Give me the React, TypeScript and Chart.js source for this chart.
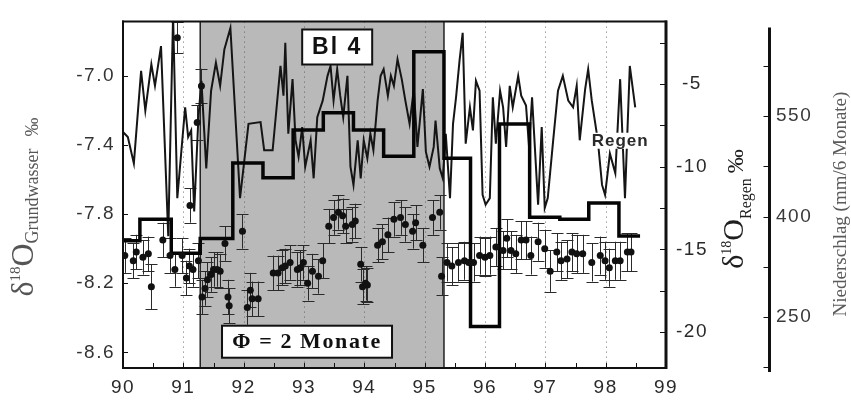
import React, { useEffect, useRef } from 'react';
import { Chart, registerables } from 'chart.js';

Chart.register(...registerables);

// ---------- axis ticks ----------
const xTickValues = [90, 91, 92, 93, 94, 95, 96, 97, 98, 99];
const gwTickValues = [-8.6, -8.2, -7.8, -7.4, -7.0];
const regenTickValues = [-20, -15, -10, -5];
const nsTickValues = [250, 400, 550];
const xFrameTicks = [90.5, 91, 91.5, 92, 92.5, 93, 93.5, 94, 94.5, 95, 95.5, 96, 96.5, 97, 97.5, 98, 98.5];
const regenFrameTicks = [-20, -17.5, -15, -12.5, -10, -7.5, -5, -2.5];
const nsAxisTicks = [175, 250, 325, 400, 475, 550, 625];

// ---------- shaded period ----------
const shadeFrom = 91.28;
const shadeTo = 95.32;

// ---------- δ18O Regen (monthly, ‰) ----------
const regenT = [
  90.0, 90.08, 90.18, 90.3, 90.37, 90.47, 90.53, 90.63, 90.75, 90.83, 90.9,
  91.03, 91.08, 91.13, 91.18, 91.25, 91.3, 91.38, 91.46, 91.54, 91.61, 91.68, 91.78, 91.94,
  92.08, 92.28, 92.34, 92.48, 92.61, 92.66, 92.69, 92.74, 92.81, 92.86, 92.91, 92.97,
  93.02, 93.11, 93.16, 93.22, 93.31, 93.39, 93.44, 93.49, 93.55, 93.6, 93.65, 93.72, 93.77, 93.82, 93.89, 93.94, 93.99,
  94.05, 94.1, 94.15, 94.22, 94.27, 94.32, 94.39, 94.44, 94.49, 94.55, 94.62, 94.68, 94.75, 94.82, 94.88, 94.97,
  95.02, 95.08, 95.15, 95.18, 95.25, 95.3, 95.35, 95.42, 95.47, 95.52, 95.58, 95.63, 95.68, 95.75, 95.8, 95.85, 95.91, 95.96,
  96.01, 96.08, 96.13, 96.18, 96.25, 96.3, 96.35, 96.41, 96.46, 96.55, 96.6, 96.68, 96.73, 96.78, 96.88, 96.94, 96.99,
  97.04, 97.13, 97.21, 97.29, 97.38, 97.46, 97.52, 97.57, 97.66, 97.71, 97.77, 97.87, 97.94, 97.99,
  98.07, 98.16, 98.24, 98.32, 98.4, 98.49,
];
const regenV = [
  -7.9, -8.2, -9.8, -4.2, -6.6, -3.8, -5.1, -2.7, -14.2, -0.85, -11.9,
  -6.4, -8.2, -7.8, -12.7, -7.0, -4.8, -10.1, -5.4, -3.7, -5.1, -2.9, -1.6, -11.9,
  -7.4, -7.3, -9.0, -9.0, -3.9, -5.7, -2.5, -8.0, -4.7, -8.4, -9.4, -7.6,
  -10.0, -8.4, -10.7, -7.0, -6.0, -4.5, -3.9, -6.0, -4.1, -5.7, -7.0, -4.5, -10.0, -11.1, -8.4, -10.7, -8.4,
  -9.5, -8.0, -9.0, -6.0, -4.5, -4.1, -5.7, -4.5, -5.1, -3.5, -4.7, -6.0, -7.4, -5.3, -8.8, -5.3,
  -9.1, -10.0, -8.8, -7.2, -10.1, -10.7, -8.0, -11.9, -7.4, -5.8, -3.5, -1.9, -8.6, -6.4, -7.8, -4.8, -5.4, -11.7,
  -12.3, -11.9, -5.8, -8.6, -5.4, -6.4, -8.8, -5.1, -6.4, -4.5, -5.7, -6.3, -8.8, -5.8, -12.3, -7.6, -12.5,
  -11.9, -8.4, -5.4, -4.5, -6.0, -6.4, -5.1, -8.4, -5.3, -4.1, -6.0, -8.4, -11.1, -11.7,
  -9.2, -10.4, -4.7, -11.9, -3.9, -6.4,
];

// ---------- Niederschlag (mm / 6 Monate), step starts ----------
const nsT = [90.0, 90.28, 90.8, 91.28, 91.82, 92.32, 92.82, 93.32, 93.82, 94.32, 94.82, 95.32, 95.76, 96.24, 96.74, 97.24, 97.72, 98.22, 98.57];
const nsV = [364, 396, 345, 367, 480, 458, 529, 555, 529, 490, 646, 487, 236, 538, 399, 396, 420, 371, 371];

// ---------- δ18O Grundwasser (‰) with error ----------
const gwT = [
  90.03, 90.17, 90.22, 90.33, 90.42, 90.47, 90.66, 90.78, 90.86, 90.9, 90.98,
  91.05, 91.1, 91.11, 91.16, 91.23, 91.25, 91.3, 91.31, 91.36, 91.4, 91.46, 91.5, 91.56, 91.61, 91.69, 91.74, 91.76, 91.98,
  92.06, 92.11, 92.14, 92.24, 92.49, 92.57, 92.64, 92.69, 92.77, 92.89, 92.94, 92.99,
  93.06, 93.14, 93.24, 93.31, 93.41, 93.49, 93.57, 93.64, 93.69, 93.8, 93.85, 93.94, 93.97,
  94.02, 94.05, 94.22, 94.3, 94.39, 94.49, 94.6, 94.68, 94.8, 94.85, 94.97,
  95.13, 95.25, 95.28, 95.37, 95.45, 95.56, 95.66, 95.73, 95.81, 95.91,
  96.0, 96.08, 96.18, 96.3, 96.36, 96.43, 96.51, 96.6, 96.68, 96.76, 96.88, 96.99,
  97.08, 97.19, 97.26, 97.36, 97.44, 97.52, 97.62, 97.77, 97.91, 97.99,
  98.06, 98.16, 98.24, 98.36, 98.42,
];
const gwV = [
  -8.04, -8.07, -8.02, -8.05, -8.03, -8.22, -7.95, -8.04, -8.12, -6.78, -8.04,
  -8.17, -8.1, -7.75, -8.12, -7.27, -8.07, -7.06, -8.28, -8.23, -8.18, -8.15, -8.12, -8.12, -8.13, -7.97, -8.28, -8.33, -7.9,
  -8.34, -8.24, -8.29, -8.29, -8.14, -8.14, -8.11, -8.1, -8.08, -8.12, -8.11, -8.08,
  -8.2, -8.13, -8.16, -8.07, -7.87, -7.82, -7.79, -7.81, -7.87, -7.86, -7.84, -8.09, -8.22,
  -8.2, -8.21, -7.98, -7.96, -7.92, -7.83, -7.82, -7.86, -7.9, -7.85, -7.98,
  -7.82, -7.79, -8.16, -8.08, -8.1, -8.08, -8.07, -8.08, -8.08, -8.04,
  -8.05, -8.04, -7.99, -8.01, -7.94, -8.01, -8.03, -7.95, -7.95, -8.04, -7.96, -8.0,
  -8.13, -8.02, -8.07, -8.06, -8.02, -8.03, -8.03, -8.08, -8.04, -8.07,
  -8.11, -8.07, -8.07, -8.02, -8.02,
];
const gwErr = [
  0.1, 0.1, 0.1, 0.1, 0.1, 0.13, 0.1, 0.1, 0.1, 0.09, 0.1,
  0.1, 0.1, 0.1, 0.1, 0.1, 0.1, 0.1, 0.1, 0.1, 0.1, 0.1, 0.1, 0.1, 0.1, 0.1, 0.1, 0.1, 0.1,
  0.1, 0.1, 0.1, 0.1, 0.1, 0.1, 0.1, 0.1, 0.1, 0.1, 0.1, 0.1,
  0.1, 0.1, 0.1, 0.1, 0.1, 0.1, 0.1, 0.1, 0.1, 0.1, 0.1, 0.1, 0.1,
  0.1, 0.1, 0.1, 0.1, 0.1, 0.1, 0.1, 0.1, 0.1, 0.1, 0.1,
  0.1, 0.1, 0.11, 0.11, 0.11, 0.11, 0.11, 0.11, 0.11, 0.11,
  0.11, 0.11, 0.11, 0.11, 0.11, 0.11, 0.11, 0.11, 0.11, 0.11, 0.11, 0.11,
  0.12, 0.11, 0.11, 0.11, 0.11, 0.11, 0.11, 0.11, 0.11, 0.11,
  0.11, 0.11, 0.11, 0.11, 0.11,
];

const SANS = '"Liberation Sans", Arial, Helvetica, sans-serif';
const SERIF = '"Liberation Serif", "Times New Roman", serif';

type Piece = { t: string; size: number; dy: number; gap?: number; bold?: boolean };

function drawRotatedRich(ctx: CanvasRenderingContext2D, pieces: Piece[], baseX: number, centerY: number, color: string) {
  ctx.save();
  (ctx as any).letterSpacing = '0px';
  ctx.fillStyle = color;
  ctx.textBaseline = 'alphabetic';
  ctx.textAlign = 'left';
  let total = 0;
  const widths: number[] = [];
  for (const p of pieces) {
    ctx.font = `${p.bold ? 'bold ' : ''}${p.size}px ${SERIF}`;
    const w = ctx.measureText(p.t).width;
    widths.push(w);
    total += w + (p.gap || 0);
  }
  ctx.translate(baseX, centerY);
  ctx.rotate(-Math.PI / 2);
  let x = -total / 2;
  pieces.forEach((p, i) => {
    x += p.gap || 0;
    ctx.font = `${p.bold ? 'bold ' : ''}${p.size}px ${SERIF}`;
    ctx.fillText(p.t, x, p.dy);
    x += widths[i];
  });
  ctx.restore();
}

function boxText(ctx: CanvasRenderingContext2D, cx: number, cy: number, w: number, h: number, text: string, font: string, spacing: string, border: number) {
  ctx.save();
  ctx.fillStyle = '#ffffff';
  ctx.fillRect(cx - w / 2, cy - h / 2, w, h);
  if (border > 0) {
    ctx.strokeStyle = '#111';
    ctx.lineWidth = border;
    ctx.strokeRect(cx - w / 2, cy - h / 2, w, h);
  }
  (ctx as any).letterSpacing = spacing;
  ctx.fillStyle = '#111';
  ctx.font = font;
  ctx.textAlign = 'center';
  ctx.textBaseline = 'middle';
  ctx.fillText(text, cx, cy + 1);
  ctx.restore();
}

const decorPlugin = {
  id: 'decor',
  afterInit(chart: any) {
    chart.ctx.letterSpacing = '1.5px';
  },
  beforeDatasetsDraw(chart: any) {
    const { ctx, chartArea: a, scales } = chart;
    const x = scales.x;
    const y = scales.y;
    ctx.save();
    (ctx as any).letterSpacing = '0px';
    const x0 = x.getPixelForValue(shadeFrom);
    const x1 = x.getPixelForValue(shadeTo);
    ctx.fillStyle = '#b9b9b9';
    ctx.fillRect(x0, a.top, x1 - x0, a.bottom - a.top);
    // dotted year lines
    ctx.strokeStyle = 'rgba(80,80,80,0.55)';
    ctx.lineWidth = 1;
    ctx.setLineDash([1.5, 3.5]);
    for (const t of xTickValues.slice(1, -1)) {
      const px = Math.round(x.getPixelForValue(t)) + 0.5;
      ctx.beginPath();
      ctx.moveTo(px, a.top);
      ctx.lineTo(px, a.bottom);
      ctx.stroke();
    }
    ctx.setLineDash([]);
    // shade borders
    ctx.strokeStyle = '#222';
    ctx.lineWidth = 1.5;
    for (const px of [x0, x1]) {
      ctx.beginPath();
      ctx.moveTo(px, a.top);
      ctx.lineTo(px, a.bottom);
      ctx.stroke();
    }
    // error bars of groundwater
    ctx.save();
    ctx.beginPath();
    ctx.rect(a.left, a.top, a.right - a.left, a.bottom - a.top);
    ctx.clip();
    ctx.strokeStyle = '#2a2a2a';
    ctx.lineWidth = 1;
    for (let i = 0; i < gwT.length; i++) {
      const px = Math.round(x.getPixelForValue(gwT[i])) + 0.5;
      const yt = y.getPixelForValue(gwV[i] + gwErr[i]);
      const yb = y.getPixelForValue(gwV[i] - gwErr[i]);
      ctx.beginPath();
      ctx.moveTo(px, yt);
      ctx.lineTo(px, yb);
      ctx.moveTo(px - 6, Math.round(yt) + 0.5);
      ctx.lineTo(px + 6, Math.round(yt) + 0.5);
      ctx.moveTo(px - 6, Math.round(yb) + 0.5);
      ctx.lineTo(px + 6, Math.round(yb) + 0.5);
      ctx.stroke();
    }
    ctx.restore();
    ctx.restore();
  },
  afterDatasetsDraw(chart: any) {
    const { ctx, scales } = chart;
    const x = scales.x;
    const y = scales.y;
    // "Bl 4" box
    boxText(ctx, x.getPixelForValue(93.55), y.getPixelForValue(-6.834), 70, 35, 'Bl 4', `bold 23px ${SANS}`, '2px', 2);
    // "Φ = 2 Monate" box
    boxText(ctx, x.getPixelForValue(93.05), y.getPixelForValue(-8.538), 170, 32, 'Φ = 2 Monate', `bold 22px ${SERIF}`, '1.6px', 2);
    // "Regen" label
    ctx.save();
    const rx = x.getPixelForValue(98.24);
    const ry = y.getPixelForValue(-7.376);
    ctx.fillStyle = '#ffffff';
    ctx.fillRect(rx - 29, ry - 8, 58, 16);
    (ctx as any).letterSpacing = '1px';
    ctx.fillStyle = '#2a2a2a';
    ctx.font = `bold 17px ${SANS}`;
    ctx.textAlign = 'center';
    ctx.textBaseline = 'middle';
    ctx.fillText('Regen', rx, ry + 1);
    ctx.restore();
  },
  afterDraw(chart: any) {
    const { ctx, chartArea: a, scales } = chart;
    const x = scales.x;
    const y = scales.y;
    const y1 = scales.y1;
    const y2 = scales.y2;
    ctx.save();
    (ctx as any).letterSpacing = '0px';
    ctx.strokeStyle = '#111';
    const line = (xa: number, ya: number, xb: number, yb: number) => {
      ctx.beginPath();
      ctx.moveTo(xa, ya);
      ctx.lineTo(xb, yb);
      ctx.stroke();
    };
    // frame
    ctx.lineWidth = 2;
    line(a.left, a.top - 1, a.left, a.bottom + 1);
    line(a.left - 1, a.top, a.right + 1, a.top);
    line(a.left - 1, a.bottom, a.right + 1, a.bottom);
    ctx.lineWidth = 3;
    line(a.right, a.top - 1, a.right, a.bottom + 1);
    // inward ticks
    ctx.lineWidth = 1;
    for (const v of gwTickValues) {
      const py = Math.round(y.getPixelForValue(v)) + 0.5;
      line(a.left, py, a.left + 5, py);
    }
    for (const t of xFrameTicks) {
      const px = Math.round(x.getPixelForValue(t)) + 0.5;
      line(px, a.bottom, px, a.bottom - 5);
    }
    for (const v of regenFrameTicks) {
      const py = Math.round(y1.getPixelForValue(v)) + 0.5;
      line(a.right, py, a.right - 6, py);
    }
    // Niederschlag axis line
    const nx = y2.left + 1.5;
    ctx.lineWidth = 3;
    line(nx, a.top + 6, nx, a.bottom + 4);
    ctx.lineWidth = 1;
    for (const v of nsAxisTicks) {
      const py = Math.round(y2.getPixelForValue(v)) + 0.5;
      line(nx, py, nx - 6, py);
    }
    ctx.restore();

    // axis titles
    drawRotatedRich(ctx, [
      { t: 'δ', size: 32, dy: 0 },
      { t: '18', size: 15, dy: -13 },
      { t: 'O', size: 32, dy: 0 },
      { t: 'Grundwasser', size: 18, dy: 5 },
      { t: '‰', size: 19, dy: 5, gap: 12 },
    ], 33, 207, '#555555');
    drawRotatedRich(ctx, [
      { t: 'δ', size: 30, dy: 0 },
      { t: '18', size: 14, dy: -12 },
      { t: 'O', size: 30, dy: 0 },
      { t: 'Regen', size: 16, dy: 8 },
      { t: '‰', size: 24, dy: 0, gap: 5 },
    ], 743, 209, '#1e1e1e');
    drawRotatedRich(ctx, [
      { t: 'Niederschlag (mm/6 Monate)', size: 19, dy: 0 },
    ], 846, 204, '#5a5a5a');
  },
};

export default function App() {
  const canvasRef = useRef<HTMLCanvasElement | null>(null);

  useEffect(() => {
    const canvas = canvasRef.current;
    if (!canvas) return;
    const tickFont = { family: SANS, size: 19 };
    const chart = new Chart(canvas, {
      type: 'line',
      data: {
        datasets: [
          {
            label: 'δ18O Grundwasser',
            data: gwT.map((t, i) => ({ x: t, y: gwV[i] })),
            yAxisID: 'y',
            showLine: false,
            pointRadius: 3.5,
            pointBackgroundColor: '#111',
            pointBorderColor: '#111',
            pointBorderWidth: 0,
          },
          {
            label: 'Niederschlag',
            data: nsT.map((t, i) => ({ x: t, y: nsV[i] })),
            yAxisID: 'y2',
            stepped: 'before',
            borderColor: '#050505',
            borderWidth: 3.5,
            pointRadius: 0,
            fill: false,
          },
          {
            label: 'δ18O Regen',
            data: regenT.map((t, i) => ({ x: t, y: regenV[i] })),
            yAxisID: 'y1',
            borderColor: '#151515',
            borderWidth: 2,
            pointRadius: 0,
            tension: 0,
            fill: false,
          },
        ],
      },
      options: {
        responsive: false,
        animation: false,
        events: [],
        layout: { padding: { top: 11, left: 0, right: 0, bottom: 0 } },
        plugins: { legend: { display: false }, tooltip: { enabled: false } },
        scales: {
          x: {
            type: 'linear',
            position: 'bottom',
            min: 90,
            max: 99,
            grid: { display: false, drawTicks: false },
            border: { display: false },
            ticks: {
              stepSize: 1,
              autoSkip: false,
              maxRotation: 0,
              padding: 8,
              color: '#2a2a2a',
              font: tickFont,
              callback: (v: any) => String(v),
            },
            afterBuildTicks: (s: any) => { s.ticks = xTickValues.map((v) => ({ value: v })); },
            afterFit: (s: any) => { s.height = 37; },
          },
          y: {
            type: 'linear',
            position: 'left',
            min: -8.69,
            max: -6.686,
            grid: { display: false, drawTicks: false },
            border: { display: false },
            ticks: { padding: 8, color: '#333', font: tickFont, callback: (v: any) => Number(v).toFixed(1) },
            afterBuildTicks: (s: any) => { s.ticks = gwTickValues.map((v) => ({ value: v })); },
            afterFit: (s: any) => { s.width = 123; },
          },
          y1: {
            type: 'linear',
            position: 'right',
            weight: 0,
            min: -22.18,
            max: -1.204,
            grid: { display: false, drawTicks: false },
            border: { display: false },
            ticks: { padding: 10, crossAlign: 'center', color: '#2a2a2a', font: tickFont, callback: (v: any) => String(v) },
            afterBuildTicks: (s: any) => { s.ticks = regenTickValues.map((v) => ({ value: v })); },
            afterFit: (s: any) => { s.width = 102; },
          },
          y2: {
            type: 'linear',
            position: 'right',
            weight: 1,
            min: 173.9,
            max: 691.2,
            grid: { display: false, drawTicks: false },
            border: { display: false },
            ticks: { padding: 8, color: '#3a3a3a', font: tickFont, callback: (v: any) => String(v) },
            afterBuildTicks: (s: any) => { s.ticks = nsTickValues.map((v) => ({ value: v })); },
            afterFit: (s: any) => { s.width = 83; },
          },
        },
      },
      plugins: [decorPlugin],
    } as any);
    return () => chart.destroy();
  }, []);

  return (
    <div style={{ position: 'absolute', left: 0, top: 0, width: 851, height: 405, background: '#fff' }}>
      <canvas ref={canvasRef} width={851} height={405} style={{ display: 'block', width: 851, height: 405 }} />
    </div>
  );
}
